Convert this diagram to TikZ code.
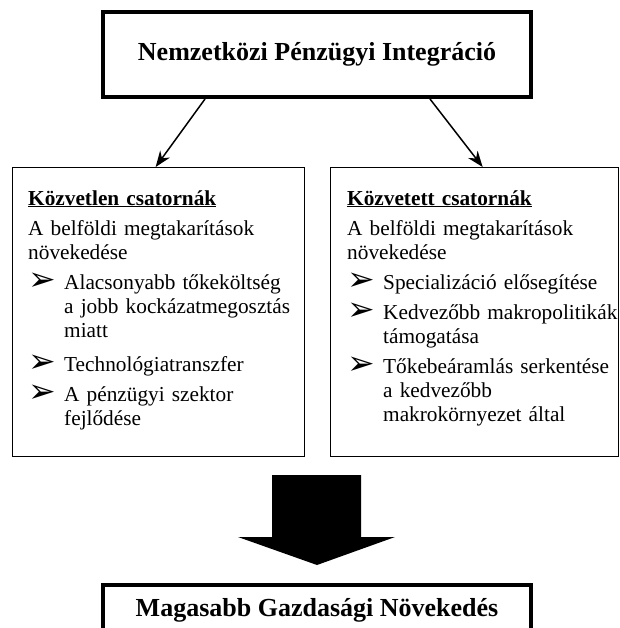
\documentclass[tikz,border=0pt]{standalone}
\usepackage{fontspec}
\setmainfont{Liberation Serif}
\newfontfamily\dejavu{DejaVu Sans}
\usetikzlibrary{arrows.meta}

\newcommand{\nyilhegy}{\raisebox{-1.5pt}{\scalebox{1.55}{\dejavu\char"27A2}}}
\newcommand{\tetel}[1]{\par\vspace{6pt}\hangindent=36pt\hangafter=1\noindent\makebox[36pt][l]{\nyilhegy}#1}
\newcommand{\doboz}{\raggedright\hyphenpenalty=10000\exhyphenpenalty=10000\noindent}

\begin{document}
\begin{tikzpicture}[x=1pt, y=-1pt,
  fobox/.style={draw, line width=4pt, minimum width=428pt, font=\fontsize{26}{30}\selectfont\bfseries},
  csatorna/.style={draw, line width=1.3pt, anchor=north west, minimum height=289pt},
  szoveg/.style={anchor=north west, inner sep=0pt, text width=290pt, font=\fontsize{21.3}{24}\selectfont},
  nyil/.style={line width=1.5pt, -{Stealth[length=16pt,width=12pt]}},
]
  \useasboundingbox (0,0) rectangle (619,628);

  \node[fobox, minimum height=85pt] (integracio) at (317,54.5) {Nemzetközi Pénzügyi Integráció};

  % a ket csatorna doboza
  \node[csatorna, minimum width=292pt] (kozvetlen) at (12,167) {};
  \node[csatorna, minimum width=288pt] (kozvetett) at (330,167) {};

  \node[szoveg] (kozvetlen szoveg) at ([shift={(16pt,-23pt)}]kozvetlen.north west) {\doboz
    {\bfseries\underline{Közvetlen csatornák}}\par\vspace{6pt}
    \noindent A belföldi megtakarítások\newline növekedése
    \tetel{Alacsonyabb tőkeköltség\newline a jobb kockázatmegosztás\newline miatt}
    \vspace{4pt}
    \tetel{Technológiatranszfer}
    \tetel{A pénzügyi szektor\newline fejlődése}\par};

  \node[szoveg] (kozvetett szoveg) at ([shift={(17pt,-23pt)}]kozvetett.north west) {\doboz
    {\bfseries\underline{Közvetett csatornák}}\par\vspace{6pt}
    \noindent A belföldi megtakarítások\newline növekedése
    \tetel{Specializáció elősegítése}
    \tetel{Kedvezőbb makropolitikák\newline támogatása}
    \tetel{Tőkebeáramlás serkentése\newline a kedvezőbb\newline makrokörnyezet által}\par};

  \draw[nyil] ([xshift=-112pt]integracio.south) -- ([xshift=-3pt]kozvetlen.north);
  \draw[nyil] ([xshift=113pt]integracio.south) -- ([xshift=8pt]kozvetett.north);

  % vastag lefele mutato nyil
  \fill (272,475) -- (361,475) -- (361,537) -- (395,537) -- (317,565)
    -- (238,537) -- (272,537) -- cycle;

  \node[fobox, minimum height=50pt, anchor=north] (novekedes) at (317,583) {Magasabb Gazdasági Növekedés};
\end{tikzpicture}
\end{document}
